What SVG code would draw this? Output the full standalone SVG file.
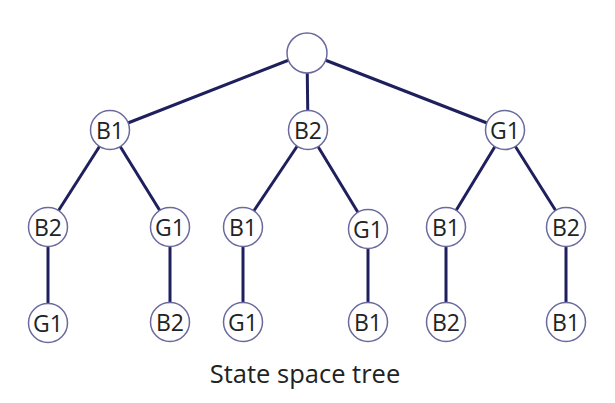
<svg xmlns="http://www.w3.org/2000/svg" width="615" height="403" viewBox="0 0 615 403">
<style>
.n{fill:#fff;stroke:#6a6a9e;stroke-width:1.5}
.t{font-family:"Open Sans",sans-serif;font-size:23px;fill:#222;text-anchor:middle;dominant-baseline:central}
.e{stroke:#1f1f5e;stroke-width:3;fill:none}
</style>
<rect width="615" height="403" fill="#fff"/>
<g id="edges">
<line class="e" x1="307" y1="53" x2="110" y2="130"/>
<line class="e" x1="307" y1="53" x2="308" y2="130"/>
<line class="e" x1="307" y1="53" x2="505" y2="130"/>
<line class="e" x1="110" y1="130" x2="48" y2="227"/>
<line class="e" x1="110" y1="130" x2="170" y2="227"/>
<line class="e" x1="308" y1="130" x2="243" y2="227"/>
<line class="e" x1="308" y1="130" x2="368" y2="229"/>
<line class="e" x1="505" y1="130" x2="446" y2="227"/>
<line class="e" x1="505" y1="130" x2="566" y2="227"/>
<line class="e" x1="48" y1="227" x2="48" y2="323"/>
<line class="e" x1="170" y1="227" x2="170" y2="322"/>
<line class="e" x1="243" y1="227" x2="243" y2="322"/>
<line class="e" x1="368" y1="229" x2="368" y2="322"/>
<line class="e" x1="446" y1="227" x2="446" y2="322"/>
<line class="e" x1="566" y1="227" x2="566" y2="322"/>
</g>
<g id="root"><circle class="n" cx="307" cy="53" r="20"/></g>
<g id="l1-b1"><circle class="n" cx="110" cy="130" r="19.5"/><text class="t" x="110" y="130">B1</text></g>
<g id="l1-b2"><circle class="n" cx="308" cy="130" r="19.5"/><text class="t" x="308" y="130">B2</text></g>
<g id="l1-g1"><circle class="n" cx="505" cy="130" r="19.5"/><text class="t" x="505" y="130">G1</text></g>
<g id="l2-b2"><circle class="n" cx="48" cy="227" r="19.5"/><text class="t" x="48" y="227">B2</text></g>
<g id="l2-g1a"><circle class="n" cx="170" cy="227" r="19.5"/><text class="t" x="170" y="227">G1</text></g>
<g id="l2-b1a"><circle class="n" cx="243" cy="227" r="19.5"/><text class="t" x="243" y="227">B1</text></g>
<g id="l2-g1b"><circle class="n" cx="368" cy="229" r="19.5"/><text class="t" x="368" y="229">G1</text></g>
<g id="l2-b1b"><circle class="n" cx="446" cy="227" r="19.5"/><text class="t" x="446" y="227">B1</text></g>
<g id="l2-b2b"><circle class="n" cx="566" cy="227" r="19.5"/><text class="t" x="566" y="227">B2</text></g>
<g id="l3-g1a"><circle class="n" cx="48" cy="323" r="19.5"/><text class="t" x="48" y="323">G1</text></g>
<g id="l3-b2a"><circle class="n" cx="170" cy="322" r="19.5"/><text class="t" x="170" y="322">B2</text></g>
<g id="l3-g1b"><circle class="n" cx="243" cy="322" r="19.5"/><text class="t" x="243" y="322">G1</text></g>
<g id="l3-b1a"><circle class="n" cx="368" cy="322" r="19.5"/><text class="t" x="368" y="322">B1</text></g>
<g id="l3-b2b"><circle class="n" cx="446" cy="322" r="19.5"/><text class="t" x="446" y="322">B2</text></g>
<g id="l3-b1b"><circle class="n" cx="566" cy="322" r="19.5"/><text class="t" x="566" y="322">B1</text></g>
<text x="305" y="383" font-family="'Open Sans',sans-serif" font-size="25.5" fill="#222" text-anchor="middle">State space tree</text>
</svg>
